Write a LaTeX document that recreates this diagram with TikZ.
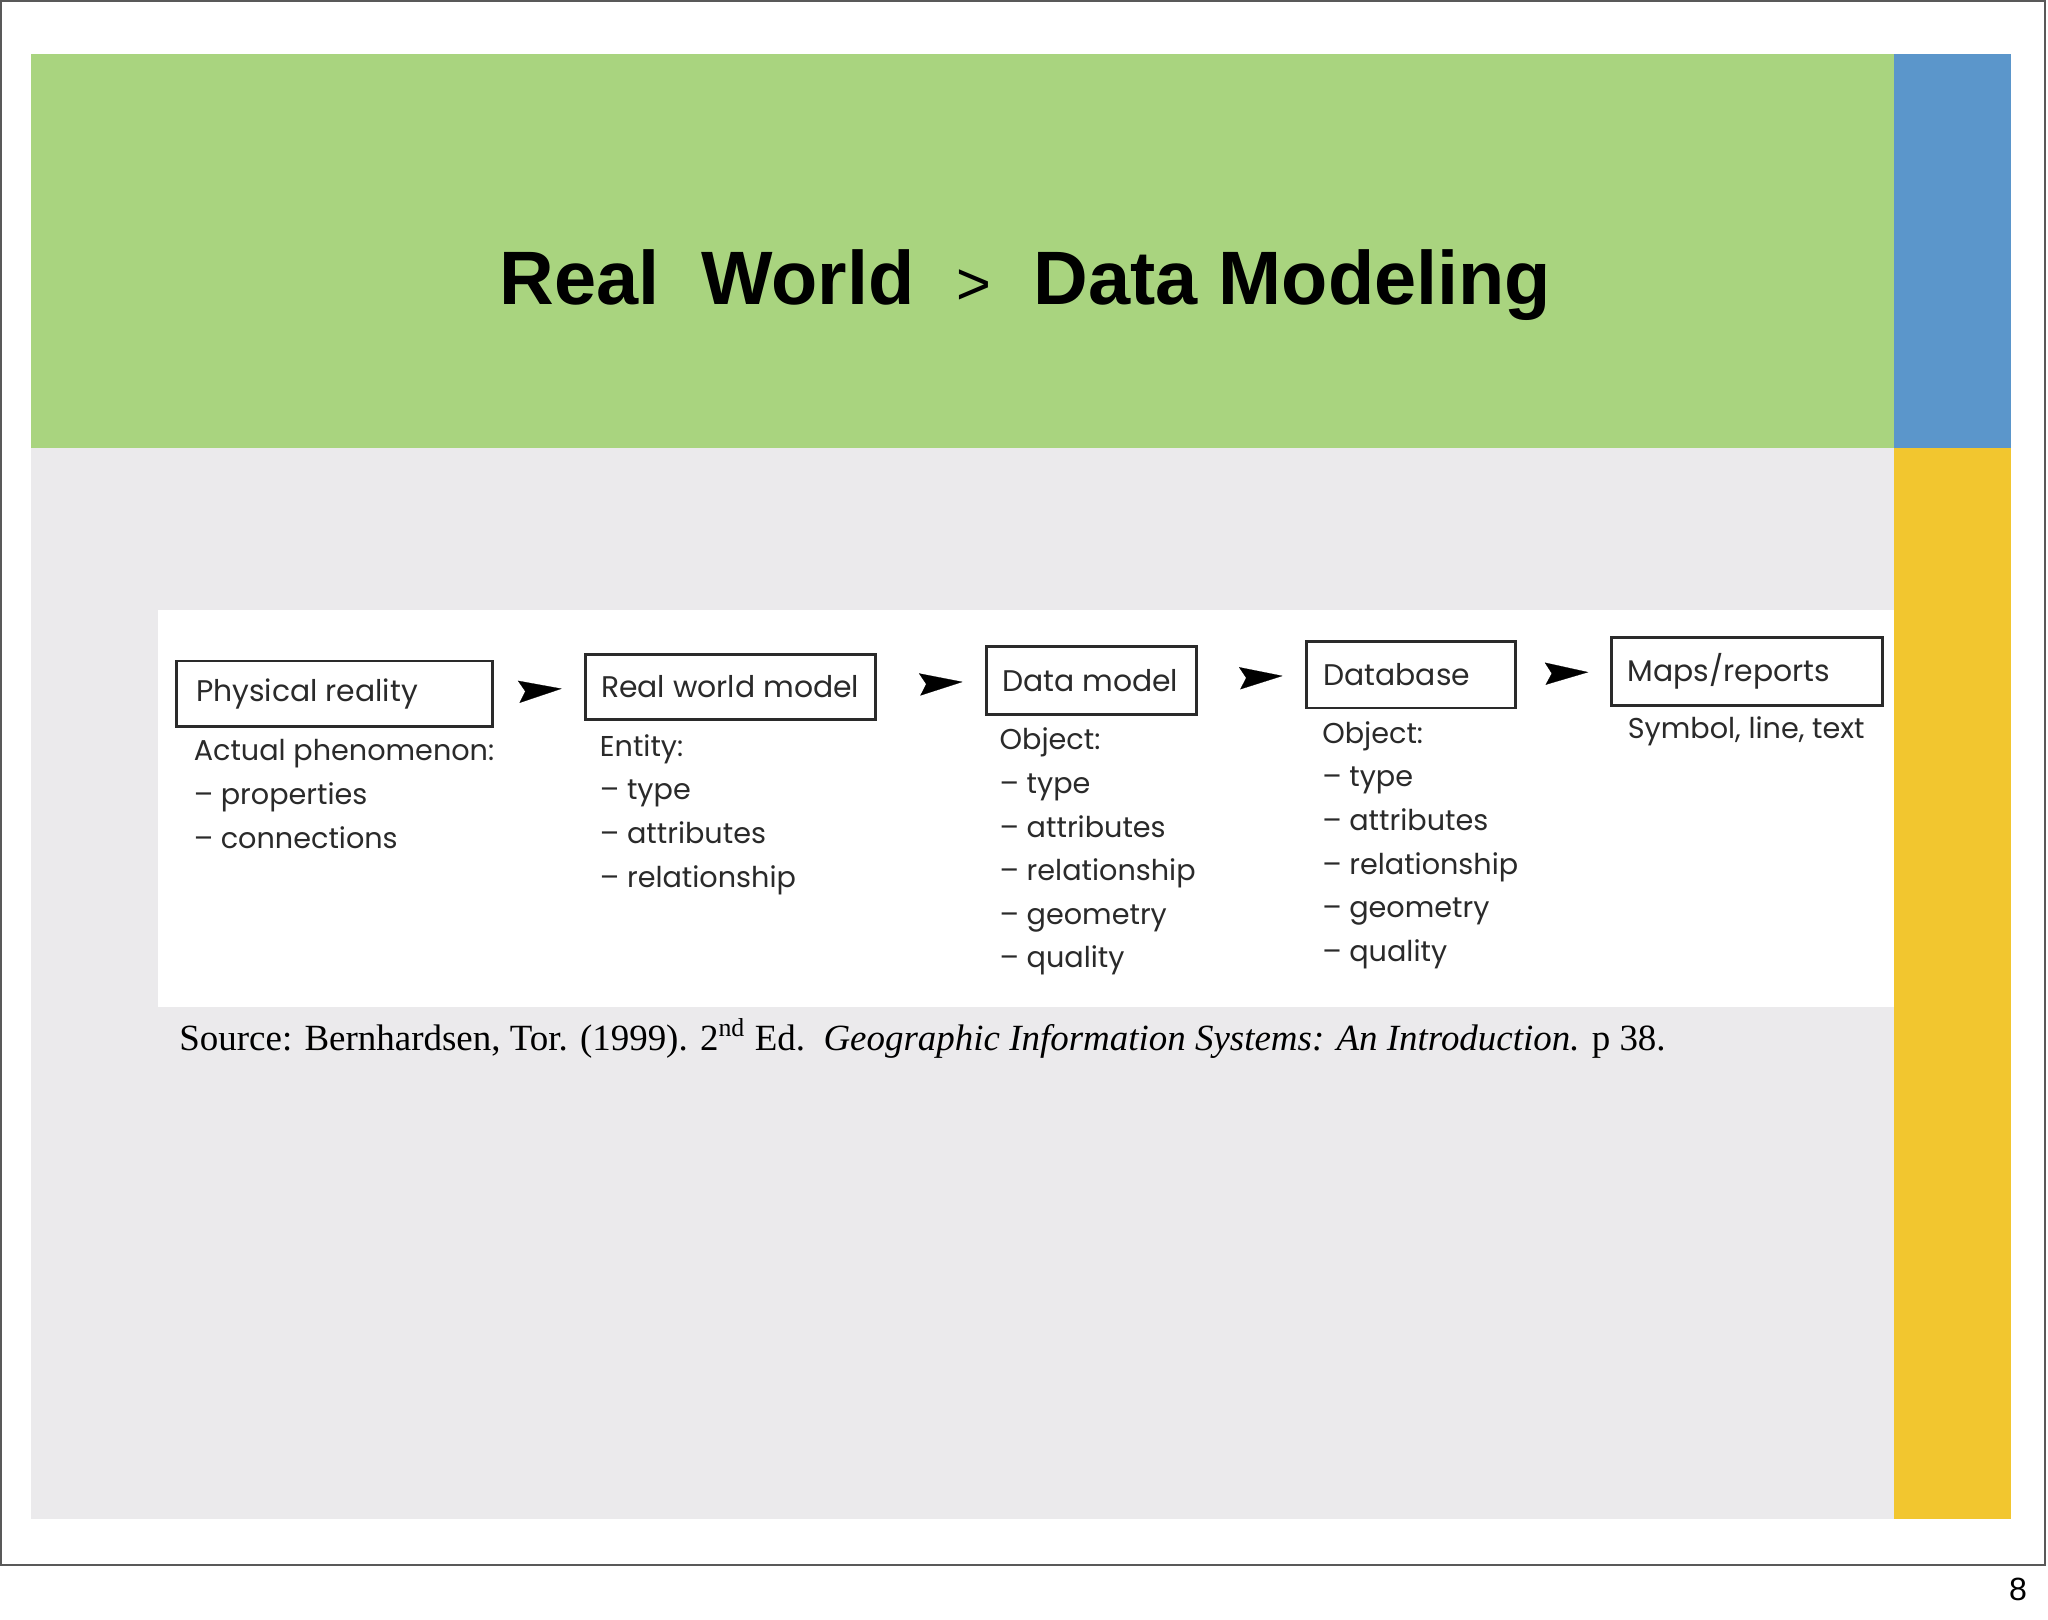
\documentclass[tikz,border=0pt]{standalone}
\usepackage{fontspec}
\setmainfont{Liberation Serif}
\newfontfamily\titlefont{Liberation Sans}
\newfontfamily\diafont{Poppins}
\usetikzlibrary{arrows.meta}
\definecolor{bandgreen}{HTML}{A9D47F}
\definecolor{bandblue}{HTML}{5B96CB}
\definecolor{bandyellow}{HTML}{F2C62F}
\definecolor{bodygray}{HTML}{EBEAEC}
\definecolor{inkc}{HTML}{2A2A2A}
\tikzset{
  stagebox/.style={draw=inkc, line width=1.2pt, fill=white, anchor=north west, inner sep=0pt},
  boxtxt/.style={anchor=west, font=\diafont\fontsize{13}{15}\selectfont, text=inkc},
  listtxt/.style={anchor=north west, align=left, inner sep=0pt, font=\diafont\fontsize{12.5}{19}\selectfont, text=inkc},
  flow/.style={draw=white, line width=0.1pt, -{Stealth[color=black,length=0.66cm,width=0.34cm,inset=0.1cm]}, shorten <=0.44cm, shorten >=0.34cm},
}
\begin{document}
\begin{tikzpicture}[x=0.02cm,y=-0.02cm]
\useasboundingbox (0,0) rectangle (1568,1240);
\fill[white] (0,0) rectangle (1568,1240);
\draw[gray!70!black, line width=0.8pt] (1,1) rectangle (1566,1198);
\fill[bandgreen] (24,41) rectangle (1450,343);
\fill[bandblue] (1450,41) rectangle (1540,343);
\fill[bodygray] (24,343) rectangle (1450,1163);
\fill[bandyellow] (1450,343) rectangle (1540,1163);
\node[font=\titlefont\bfseries\fontsize{33}{36}\selectfont] (title) at (785,218) {Real\ \ World\ \ {\fontsize{26}{28}\selectfont\mdseries >}\ \ Data Modeling};
\node[font=\titlefont\fontsize{14}{16}\selectfont] (pg) at (1545,1217) {8};
\fill[white] (121,467) rectangle (1450,771);
% boxes
\node[stagebox, minimum width=4.84cm, minimum height=1.0cm] (b1) at (134,505) {};
\node[boxtxt] (t1) at ([xshift=0.2cm]b1.west) {Physical reality};
\node[stagebox, minimum width=4.44cm, minimum height=1.0cm] (b2) at (447,500) {};
\node[boxtxt] (t2) at ([xshift=0.14cm]b2.west) {Real world model};
\node[stagebox, minimum width=3.22cm, minimum height=1.04cm] (b3) at (754,494) {};
\node[boxtxt] (t3) at ([xshift=0.14cm]b3.west) {Data model};
\node[stagebox, minimum width=3.2cm, minimum height=1.02cm] (b4) at (999,490) {};
\node[boxtxt] (t4) at ([xshift=0.16cm]b4.west) {Database};
\node[stagebox, minimum width=4.14cm, minimum height=1.04cm] (b5) at (1233,487) {};
\node[boxtxt] (t5) at ([xshift=0.14cm]b5.west) {Maps/reports};
% arrows
\draw[flow] (b1.east) -- (b2.west);
\draw[flow] (b2.east) -- (b3.west);
\draw[flow] (b3.east) -- (b4.west);
\draw[flow] (b4.east) -- (b5.west);
% lists
\node[listtxt] (l1) at (148,566) {Actual phenomenon:\\– properties\\– connections};
\node[listtxt] (l2) at (459,562) {Entity:\\– type\\– attributes\\– relationship};
\node[listtxt] (l3) at (765,557) {Object:\\– type\\– attributes\\– relationship\\– geometry\\– quality};
\node[listtxt] (l4) at (1012,552) {Object:\\– type\\– attributes\\– relationship\\– geometry\\– quality};
\node[listtxt] (l5) at (1246,548) {Symbol, line, text};
\node[anchor=west, inner sep=0pt, font=\fontsize{16.1}{18}\selectfont] (src) at (137,795) {Source: Bernhardsen, Tor. (1999). 2\textsuperscript{nd} Ed.\ \ \textit{Geographic Information Systems: An Introduction.} p 38.};
\end{tikzpicture}
\end{document}
